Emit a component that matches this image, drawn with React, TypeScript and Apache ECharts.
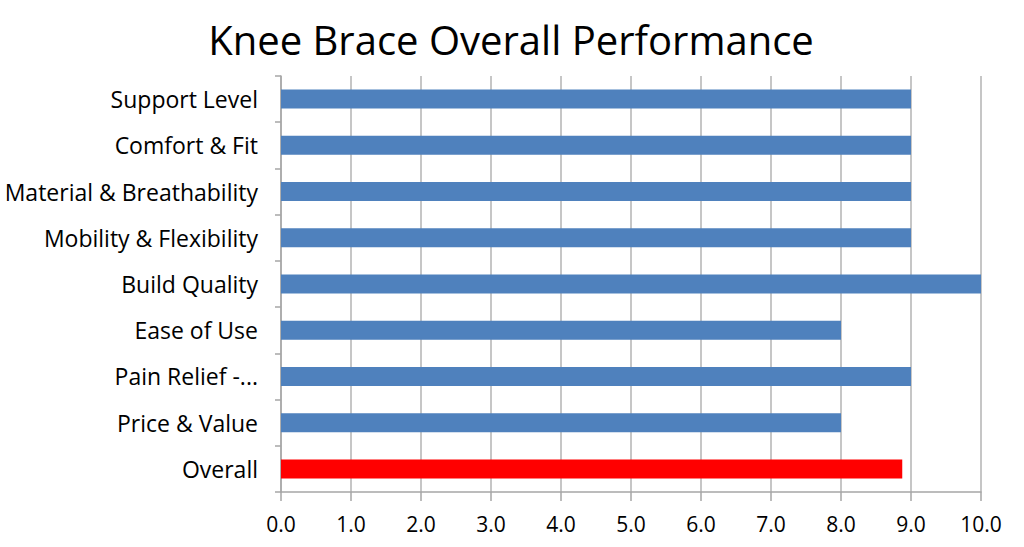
import React, { useEffect, useRef } from "react";
import * as echarts from "echarts";

const categories = [
  "Support Level",
  "Comfort & Fit",
  "Material & Breathability",
  "Mobility & Flexibility",
  "Build Quality",
  "Ease of Use",
  "Pain Relief -...",
  "Price & Value",
  "Overall",
];
const scores = [9, 9, 9, 9, 10, 8, 9, 8, 8.875];
const barColors = ["#4F81BD", "#4F81BD", "#4F81BD", "#4F81BD", "#4F81BD", "#4F81BD", "#4F81BD", "#4F81BD", "#FF0000"];
const titleText = "Knee Brace Overall Performance";

export default function App() {
  const ref = useRef<HTMLDivElement>(null);
  useEffect(() => {
    if (!ref.current) return;
    const chart = echarts.init(ref.current, undefined, { renderer: "svg" });
    const font = "'Open Sans', 'Noto Sans', sans-serif";
    chart.setOption({
      animation: false,
      backgroundColor: "#ffffff",
      title: {
        text: titleText,
        left: 506,
        textAlign: "center",
        top: 14,
        textStyle: { fontFamily: font, fontSize: 40, fontWeight: "normal", color: "#000" },
      },
      grid: { left: 281, right: 43, top: 76, bottom: 55, containLabel: false },
      xAxis: {
        type: "value",
        min: 0,
        max: 10,
        interval: 1,
        axisLine: { show: true, lineStyle: { color: "#A6A6A6", width: 1.5 } },
        axisTick: { show: true, length: 9, lineStyle: { color: "#A6A6A6", width: 1.5 } },
        splitLine: { show: true, lineStyle: { color: "#B3B3B3", width: 1.5 } },
        axisLabel: {
          formatter: (v: number) => v.toFixed(1),
          fontFamily: font,
          fontSize: 21,
          color: "#000",
          margin: 21,
        },
      },
      yAxis: {
        type: "category",
        data: categories,
        inverse: true,
        axisLine: { show: true, lineStyle: { color: "#A6A6A6", width: 1.5 } },
        axisTick: { show: true, length: 6, lineStyle: { color: "#A6A6A6", width: 1.5 } },
        axisLabel: { fontFamily: font, fontSize: 23, color: "#000", margin: 23 },
      },
      series: [
        {
          type: "bar",
          barWidth: 19,
          data: scores.map((v, i) => ({ value: v, itemStyle: { color: barColors[i] } })),
        },
      ],
    });
    return () => chart.dispose();
  }, []);
  return (
    <div
      ref={ref}
      style={{ position: "fixed", left: 0, top: 0, width: 1024, height: 547, background: "#fff" }}
    />
  );
}
